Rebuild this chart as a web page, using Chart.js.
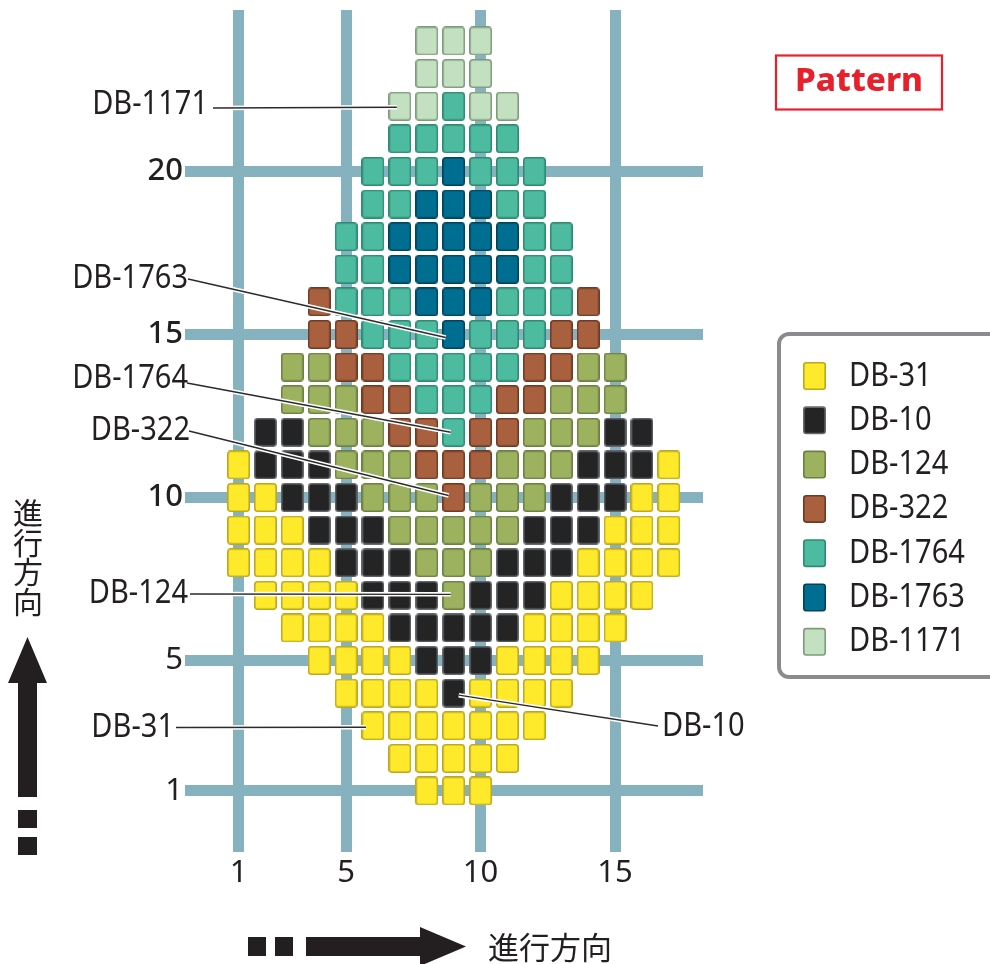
<!DOCTYPE html>
<html>
<head>
<meta charset="utf-8">
<script src="https://cdn.jsdelivr.net/npm/chart.js@4/dist/chart.umd.min.js"></script>
<style>
  html, body { margin: 0; padding: 0; background: #fff; }
</style>
</head>
<body>
<canvas id="beadChart" width="990" height="964"></canvas>
<script>
// bead colours (legend order)
const beadNames = ['DB-31', 'DB-10', 'DB-124', 'DB-322', 'DB-1764', 'DB-1763', 'DB-1171'];
const beadCodes = ['Y', 'K', 'G', 'R', 'T', 'B', 'L'];
const beadFills = ['#ffe92b', '#242424', '#9db25f', '#a8603f', '#4dbba0', '#006e91', '#c3e0c1'];
const beadBorders = ['#bca81f', '#646a70', '#6c7f44', '#6f3a23', '#2e8a72', '#00445b', '#7e9c7b'];

// pattern, top row (24) to bottom row (1), columns 1..17
const patternRows = [
    '.......LLL.......',
    '.......LLL.......',
    '......LLTLL......',
    '......TTTTT......',
    '.....TTTBTTT.....',
    '.....TTBBBTT.....',
    '....TTBBBBBTT....',
    '....TTBBBBBTT....',
    '...RTTTBBBTTTR...',
    '...RRTTTBTTTRR...',
    '..GGRRTTTTTRRGG..',
    '..GGGRRTTTRRGGG..',
    '.KKGGGRRTRRGGGKK.',
    'YKKKGGGRRRGGGKKKY',
    'YYKKKGGGRGGGKKKYY',
    'YYYKKKGGGGGKKKYYY',
    'YYYYKKKGGGKKKYYYY',
    '.YYYYKKKGKKKYYYY.',
    '..YYYYKKKKKYYYY..',
    '...YYYYKKKYYYY...',
    '....YYYYKYYYY....',
    '.....YYYYYYY.....',
    '......YYYYY......',
    '.......YYY.......'
];

// axis ticks
const colTicks = [1, 5, 10, 15];
const rowTicks = [1, 5, 10, 15, 20];

// callouts: label and the bead they point at
const calloutNames = ['DB-1171', 'DB-1763', 'DB-1764', 'DB-322', 'DB-124', 'DB-31', 'DB-10'];
const calloutCols = [7, 9, 9, 9, 9, 6, 9];
const calloutRows = [22, 15, 12, 10, 7, 3, 4];

const textColor = '#231f20';
const gridColor = '#85b2be';
const labelFont = '33px "Noto Sans"';

// petite image de perle pour le pointStyle
function beadImage(fill, stroke) {
    const c = document.createElement('canvas');
    c.width = 23;
    c.height = 29;
    const g = c.getContext('2d');
    g.fillStyle = fill;
    g.strokeStyle = stroke;
    g.lineWidth = 1.6;
    g.beginPath();
    g.roundRect(0.8, 0.8, 21.4, 27.4, 3);
    g.fill();
    g.stroke();
    return c;
}

const datasets = beadCodes.map((code, i) => {
    const pts = [];
    patternRows.forEach((line, r) => {
        for (let c = 0; c < line.length; c++) {
            if (line[c] === code) pts.push({ x: c + 1, y: patternRows.length - r });
        }
    });
    return {
        label: beadNames[i],
        data: pts,
        pointStyle: beadImage(beadFills[i], beadBorders[i]),
        pointRadius: 6,
        backgroundColor: beadFills[i],
        borderColor: beadBorders[i]
    };
});

function scaledText(ctx, text, x, y, align, sx) {
    ctx.save();
    ctx.translate(x, y);
    ctx.scale(sx, 1);
    ctx.textAlign = align;
    ctx.fillText(text, 0, 0);
    ctx.restore();
}

// lignes de rappel avec halo blanc
const calloutPlugin = {
    id: 'callouts',
    afterDatasetsDraw(chart) {
        const ctx = chart.ctx;
        const xs = chart.scales.x, ys = chart.scales.y;
        // text anchor, line start, offset of line end from bead centre
        const layout = [
            { tx: 208, ty: 114, al: 'right', lx: 213, ly: 108, dx: -3, dy: 1 },
            { tx: 188, ty: 288, al: 'right', lx: 188, ly: 279, dx: -8, dy: 3 },
            { tx: 188, ty: 388, al: 'right', lx: 187, ly: 383, dx: -3, dy: 0 },
            { tx: 190, ty: 440, al: 'right', lx: 189, ly: 431, dx: -5, dy: -2 },
            { tx: 188, ty: 603, al: 'right', lx: 190, ly: 594, dx: -3, dy: -1 },
            { tx: 174, ty: 737, al: 'right', lx: 176, ly: 727.5, dx: -7, dy: 1.5 },
            { tx: 662, ty: 736, al: 'left', lx: 658, ly: 726, dx: 5, dy: 2 }
        ];
        ctx.save();
        calloutNames.forEach((name, i) => {
            const p = layout[i];
            const ex = xs.getPixelForValue(calloutCols[i]) + p.dx;
            const ey = ys.getPixelForValue(calloutRows[i]) + p.dy;
            ctx.lineCap = 'butt';
            ctx.strokeStyle = '#ffffff';
            ctx.lineWidth = 4.5;
            ctx.beginPath();
            ctx.moveTo(p.lx, p.ly);
            ctx.lineTo(ex, ey);
            ctx.stroke();
            ctx.strokeStyle = '#2b2b2b';
            ctx.lineWidth = 1.4;
            ctx.beginPath();
            ctx.moveTo(p.lx, p.ly);
            ctx.lineTo(ex, ey);
            ctx.stroke();
            ctx.fillStyle = textColor;
            ctx.font = labelFont;
            ctx.textBaseline = 'alphabetic';
            scaledText(ctx, name, p.tx, p.ty, p.al, 0.88);
        });
        ctx.restore();
    }
};

// légende, encadré "Pattern" et flèches
const decorPlugin = {
    id: 'decor',
    afterDraw(chart) {
        const ctx = chart.ctx;
        ctx.save();

        // Pattern box
        ctx.strokeStyle = '#e8202b';
        ctx.lineWidth = 2.2;
        ctx.strokeRect(776, 55.5, 166, 54);
        ctx.fillStyle = '#e8202b';
        ctx.font = '800 32px "Noto Sans"';
        ctx.textBaseline = 'alphabetic';
        const pw = ctx.measureText('Pattern').width;
        scaledText(ctx, 'Pattern', 795, 91, 'left', 128 / pw);

        // legend box
        ctx.strokeStyle = '#898b8e';
        ctx.lineWidth = 4;
        ctx.beginPath();
        ctx.roundRect(779, 334, 240, 343, 10);
        ctx.stroke();
        ctx.font = labelFont;
        chart.data.datasets.forEach((ds, i) => {
            const y = 362 + i * 44.3;
            ctx.fillStyle = beadFills[i];
            ctx.strokeStyle = beadBorders[i];
            ctx.lineWidth = 1.6;
            ctx.beginPath();
            ctx.roundRect(803.8, y + 0.8, 21.4, 26.4, 2.5);
            ctx.fill();
            ctx.stroke();
            ctx.fillStyle = textColor;
            scaledText(ctx, ds.label, 849, y + 23.5, 'left', 0.88);
        });

        // vertical arrow
        ctx.fillStyle = '#231f20';
        ctx.beginPath();
        ctx.moveTo(27.5, 637);
        ctx.lineTo(47, 683);
        ctx.lineTo(37, 683);
        ctx.lineTo(37, 797);
        ctx.lineTo(18, 797);
        ctx.lineTo(18, 683);
        ctx.lineTo(8, 683);
        ctx.closePath();
        ctx.fill();
        ctx.fillRect(18, 810, 19, 18);
        ctx.fillRect(18, 837, 19, 18);

        // horizontal arrow
        ctx.fillRect(248, 937, 18, 19);
        ctx.fillRect(275, 937, 18, 19);
        ctx.beginPath();
        ctx.moveTo(306, 937);
        ctx.lineTo(420, 937);
        ctx.lineTo(420, 927);
        ctx.lineTo(466, 946.5);
        ctx.lineTo(420, 966);
        ctx.lineTo(420, 956);
        ctx.lineTo(306, 956);
        ctx.closePath();
        ctx.fill();

        // 進行方向
        ctx.fillStyle = textColor;
        ctx.font = '30px "Noto Sans CJK JP"';
        ctx.textAlign = 'center';
        ctx.textBaseline = 'middle';
        const word = '進行方向';
        for (let k = 0; k < word.length; k++) {
            ctx.fillText(word[k], 28, 513 + k * 29.5);
        }
        ctx.textAlign = 'left';
        ctx.font = '31px "Noto Sans CJK JP"';
        ctx.fillText(word, 488, 947);

        ctx.restore();
    }
};

window.addEventListener('load', () => {
    const ctx = document.getElementById('beadChart').getContext('2d');
    new Chart(ctx, {
        type: 'scatter',
        data: { datasets: datasets },
        options: {
            responsive: false,
            animation: false,
            events: [],
            layout: { padding: { left: 0, top: 10, right: 287, bottom: 0 } },
            plugins: {
                legend: { display: false },
                tooltip: { enabled: false }
            },
            scales: {
                x: {
                    type: 'linear',
                    min: -0.99,
                    max: 18.27,
                    afterBuildTicks: (s) => { s.ticks = colTicks.map(v => ({ value: v })); },
                    afterFit: (s) => { s.height = 112; s.paddingLeft = 0; s.paddingRight = 0; },
                    grid: { color: gridColor, lineWidth: 11, drawTicks: false },
                    border: { display: false },
                    ticks: {
                        color: textColor,
                        padding: 3,
                        font: { family: 'Noto Sans', size: 31 },
                        callback: (v) => String(v)
                    }
                },
                y: {
                    type: 'linear',
                    min: -0.871,
                    max: 24.95,
                    afterBuildTicks: (s) => { s.ticks = rowTicks.map(v => ({ value: v })); },
                    afterFit: (s) => { s.width = 185; s.paddingTop = 0; s.paddingBottom = 0; },
                    grid: { color: gridColor, lineWidth: 11, drawTicks: false },
                    border: { display: false },
                    ticks: {
                        color: textColor,
                        padding: 2,
                        font: (c) => ({ family: 'Noto Sans', size: 31, weight: c.tick && c.tick.value >= 10 ? '500' : '400' }),
                        callback: (v) => String(v)
                    }
                }
            }
        },
        plugins: [calloutPlugin, decorPlugin]
    });
});
</script>
</body>
</html>
